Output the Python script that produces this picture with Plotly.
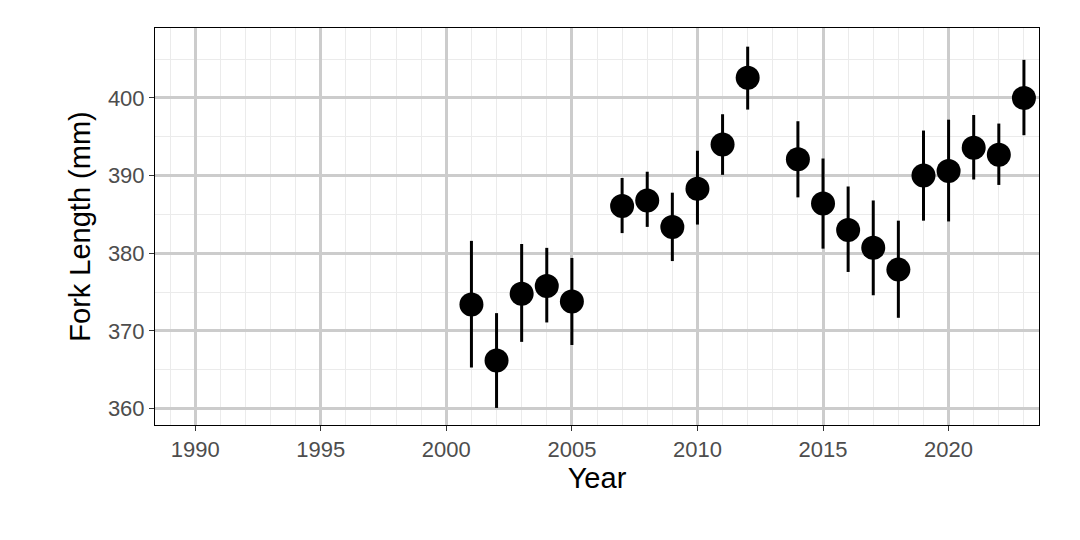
import plotly.graph_objects as go

years = [2001, 2002, 2003, 2004, 2005, 2007, 2008, 2009, 2010, 2011, 2012,
         2014, 2015, 2016, 2017, 2018, 2019, 2020, 2021, 2022, 2023]
mean = [373.4, 366.2, 374.8, 375.8, 373.8, 386.1, 386.8, 383.4, 388.3, 394.0, 402.6,
        392.1, 386.4, 383.0, 380.7, 377.9, 390.0, 390.6, 393.6, 392.7, 400.0]
upper = [381.6, 372.3, 381.2, 380.7, 379.4, 389.7, 390.5, 387.8, 393.2, 397.9, 406.6,
         397.0, 392.2, 388.6, 386.8, 384.2, 395.8, 397.2, 397.8, 396.7, 404.9]
lower = [365.3, 360.1, 368.6, 371.1, 368.2, 382.6, 383.4, 379.0, 383.7, 390.1, 398.5,
         387.2, 380.6, 377.6, 374.6, 371.7, 384.2, 384.1, 389.5, 388.8, 395.2]

fig = go.Figure(go.Scatter(
    x=years, y=mean, mode="markers",
    marker=dict(color="black", size=24),
    error_y=dict(type="data", symmetric=False,
                 array=[u - m for u, m in zip(upper, mean)],
                 arrayminus=[m - l for m, l in zip(mean, lower)],
                 color="black", thickness=3, width=0),
))
axis = dict(showline=True, linecolor="black", linewidth=1, mirror=True,
            gridcolor="#cccccc", gridwidth=2.5, zeroline=False, automargin=False,
            ticks="outside", ticklen=5, tickcolor="#333333", tickwidth=1,
            tickfont=dict(size=22, color="#4d4d4d", family="Liberation Sans, Arial"),
            title_font=dict(size=29, color="black", family="Liberation Sans, Arial"))
fig.update_xaxes(**axis, range=[1988.4, 2023.6], tickvals=[1990, 1995, 2000, 2005, 2010, 2015, 2020],
                 minor=dict(dtick=1, tick0=1990, gridcolor="#ebebeb", gridwidth=1.2, showgrid=True),
                 title_text="Year", title_standoff=6)
fig.update_yaxes(**axis, range=[357.9, 409.0], tickvals=[360, 370, 380, 390, 400],
                 minor=dict(dtick=5, tick0=360, gridcolor="#ebebeb", gridwidth=1.2, showgrid=True),
                 title_text="Fork Length (mm)", title_standoff=8)
fig.update_layout(width=1080, height=540, plot_bgcolor="white", paper_bgcolor="white",
                  margin=dict(l=147, r=49, t=20, b=123), showlegend=False)
fig.write_html("out.html")
